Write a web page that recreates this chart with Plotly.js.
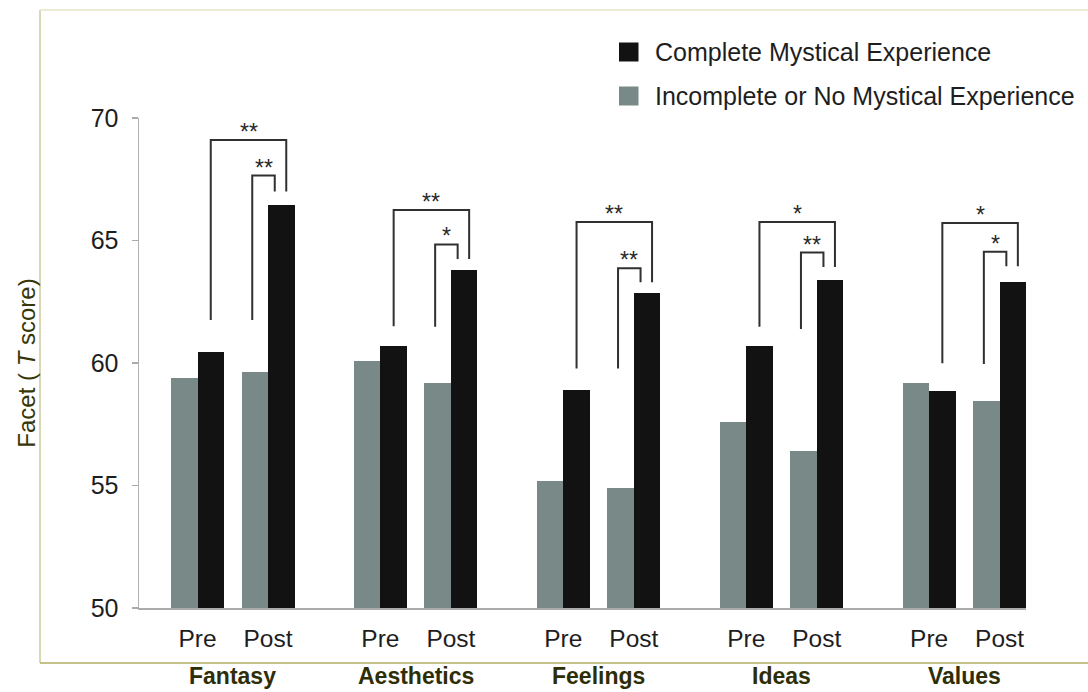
<!DOCTYPE html>
<html>
<head>
<meta charset="utf-8">
<script src="https://cdn.plot.ly/plotly-3.0.1.min.js"></script>
<style>html,body{margin:0;padding:0;background:#fff;}#chart{width:1088px;height:692px;}</style>
</head>
<body>
<div id="chart"></div>
<script>
// ---- data ----
const facets = ["Fantasy", "Aesthetics", "Feelings", "Ideas", "Values"];
const times = ["Pre", "Post"];
const seriesNames = ["Complete Mystical Experience", "Incomplete or No Mystical Experience"];
const completePre  = [60.45, 60.7, 58.9, 60.7, 58.85];
const completePost = [66.45, 63.8, 62.85, 63.4, 63.3];
const incompletePre  = [59.4, 60.1, 55.2, 57.6, 59.2];
const incompletePost = [59.65, 59.2, 54.9, 56.4, 58.45];
// significance brackets (T-score levels)
const outerTop   = [69.1, 66.24, 65.76, 65.76, 65.71];
const innerTop   = [67.65, 64.84, 63.87, 64.51, 64.54];
const outerLeftBottom = [61.76, 61.5, 59.78, 61.48, 59.99];
const innerLeftBottom = [61.76, 61.48, 59.78, 61.39, 59.96];
const rightBottom = [67.0, 64.25, 63.3, 63.92, 63.95];
const outerSig = ["**", "**", "**", "*", "*"];
const innerSig = ["**", "*", "**", "**", "*"];
const yTicks = [50, 55, 60, 65, 70];

// ---- layout constants ----
const W = 1088, H = 692;
const plotL = 139, plotR = 1026, plotT = 118, plotB = 608;
const groupStep = 182.9, pairStep = 70.5, barW = 26.5;
const xRange = [plotL - 197.5, plotR - 197.5];
const font = "Liberation Sans, Arial, Helvetica, sans-serif";
const grayCol = "#798987", blackCol = "#121212";
const olive = "#2e2e06";

function pairCenter(g, t) { return g * groupStep + t * pairStep; }
function px(x) { return (x - plotL) / (plotR - plotL); }
function py(y) { return (plotB - y) / (plotB - plotT); }

const gx = [], gy = [], bx = [], by = [], tickv = [], tickt = [];
facets.forEach((f, g) => {
  times.forEach((t, ti) => {
    const c = pairCenter(g, ti);
    gx.push(c - barW / 2); bx.push(c + barW / 2);
    gy.push(ti === 0 ? incompletePre[g] : incompletePost[g]);
    by.push(ti === 0 ? completePre[g] : completePost[g]);
    tickv.push(c); tickt.push(t);
  });
});

const traces = [
  {type: "bar", x: gx, y: gy, width: barW, name: seriesNames[1], marker: {color: grayCol, line: {width: 0}}, hoverinfo: "skip"},
  {type: "bar", x: bx, y: by, width: barW, name: seriesNames[0], marker: {color: blackCol, line: {width: 0}}, hoverinfo: "skip"}
];

const shapes = [], annotations = [];
const brLine = {color: "#303030", width: 2};
const starFont = {family: font, size: 23, color: "#2a2a2a"};
facets.forEach((f, g) => {
  const preBlack = pairCenter(g, 0) + barW / 2;
  const postGray = pairCenter(g, 1) - barW / 2;
  const postBlack = pairCenter(g, 1) + barW / 2;
  const oL = preBlack, oR = postBlack + 5;
  const iL = postGray - 2.5, iR = postBlack - 6.5;
  shapes.push({type: "path", xref: "x", yref: "y", line: brLine,
    path: `M${oL},${outerLeftBottom[g]} L${oL},${outerTop[g]} L${oR},${outerTop[g]} L${oR},${rightBottom[g]}`});
  shapes.push({type: "path", xref: "x", yref: "y", line: brLine,
    path: `M${iL},${innerLeftBottom[g]} L${iL},${innerTop[g]} L${iR},${innerTop[g]} L${iR},${rightBottom[g]}`});
  annotations.push({x: (oL + oR) / 2, y: outerTop[g], xref: "x", yref: "y", text: outerSig[g], showarrow: false,
    yanchor: "bottom", yshift: -7, font: starFont});
  annotations.push({x: (iL + iR) / 2, y: innerTop[g], xref: "x", yref: "y", text: innerSig[g], showarrow: false,
    yanchor: "bottom", yshift: -7, font: starFont});
  annotations.push({x: (pairCenter(g, 0) + pairCenter(g, 1)) / 2, y: py(676), xref: "x", yref: "paper",
    text: "<b>" + f + "</b>", showarrow: false, yanchor: "middle",
    font: {family: font, size: 23, color: olive}});
});

// frame lines
shapes.push({type: "line", xref: "paper", yref: "paper", x0: px(40), x1: px(40), y0: py(10), y1: py(663), line: {color: "#cbcb9c", width: 1.5}});
shapes.push({type: "line", xref: "paper", yref: "paper", x0: px(40), x1: px(W), y0: py(10), y1: py(10), line: {color: "#e4e4c6", width: 1.5}});
shapes.push({type: "line", xref: "paper", yref: "paper", x0: px(40), x1: px(W), y0: py(663), y1: py(663), line: {color: "#b2ae62", width: 1.5}});

// legend (drawn)
const legCols = [blackCol, grayCol];
const legY = [52, 96];
seriesNames.forEach((n, i) => {
  shapes.push({type: "rect", xref: "paper", yref: "paper", x0: px(619), x1: px(638.5), y0: py(legY[i] - 9.5), y1: py(legY[i] + 9.5),
    fillcolor: legCols[i], line: {width: 0}});
  annotations.push({x: px(653), y: py(legY[i]), xref: "paper", yref: "paper", text: n, showarrow: false,
    xanchor: "left", yanchor: "middle", font: {family: font, size: 25, color: "#1e1e1e"}});
});

const layout = {
  width: W, height: H,
  margin: {l: plotL, r: W - plotR, t: plotT, b: H - plotB, pad: 0},
  paper_bgcolor: "#fff", plot_bgcolor: "#fff",
  showlegend: false, barmode: "overlay", bargap: 0,
  font: {family: font, size: 24, color: "#1e1e1e"},
  xaxis: {range: xRange, tickvals: tickv, ticktext: tickt, ticks: "", showline: true, linecolor: "#ababab", linewidth: 2,
    showgrid: false, zeroline: false, ticklabelstandoff: 8, tickfont: {size: 24.5, color: "#1e1e1e"}, fixedrange: true},
  yaxis: {range: [50, 70], tickvals: yTicks, ticktext: yTicks.map(String), ticks: "outside", ticklen: 6,
    tickcolor: "#aaaaaa", tickwidth: 1.5, showline: true, linecolor: "#b0b0b0", linewidth: 1.5,
    showgrid: false, zeroline: false, ticklabelstandoff: 8, tickfont: {size: 25, color: "#1e1e1e"},
    title: {text: "Facet ( <i>T</i> score)", standoff: 48, font: {family: font, size: 24, color: "#363606"}}, fixedrange: true},
  shapes: shapes, annotations: annotations
};

Plotly.newPlot("chart", traces, layout, {displayModeBar: false, staticPlot: true});
</script>
</body>
</html>
